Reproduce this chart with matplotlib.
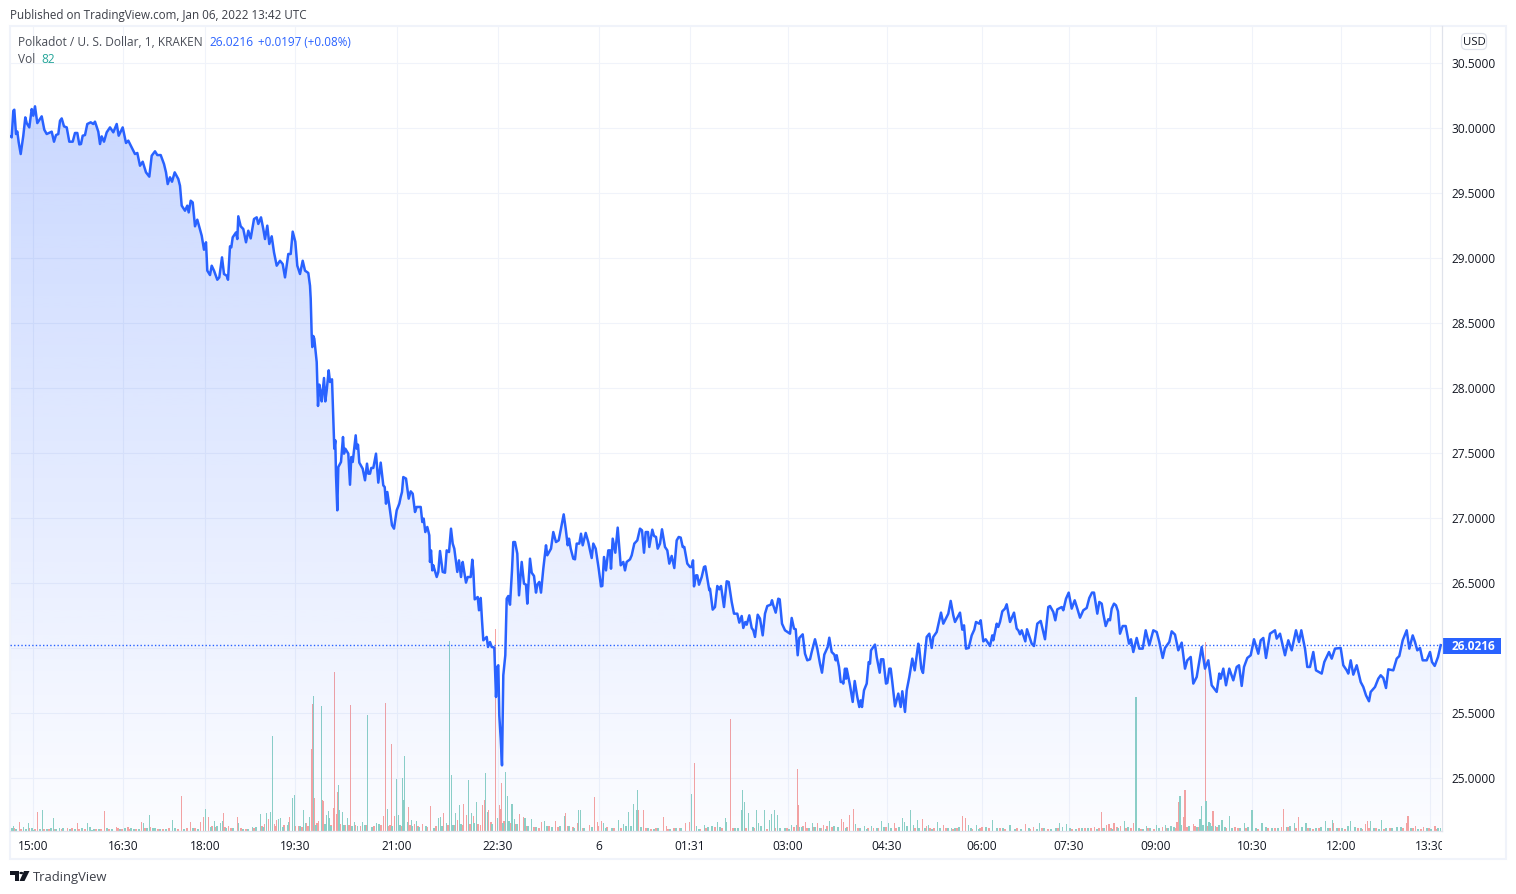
import numpy as np
import matplotlib
matplotlib.use("Agg")
import matplotlib.pyplot as plt
from matplotlib.patches import Rectangle, FancyBboxPatch, Polygon, Circle
from matplotlib.transforms import Bbox, ScaledTranslation

plt.rcParams['font.family'] = ['Open Sans', 'DejaVu Sans']

FIG_W, FIG_H = 1516, 895

# Close price by bar slot (chart slots skip the minutes with no trades)
price_points = [
    (11.0,29.936),(11.7,29.928),(13.3,30.133),(14.3,30.141),(16.0,29.954),(17.3,29.974),(18.7,29.890),(20.7,29.800),
    (23.3,29.941),(25.3,30.082),(26.7,30.038),(29.3,30.005),(31.7,30.146),(33.3,30.095),(35.0,30.167),(37.3,30.038),
    (41.7,30.090),(44.3,29.987),(46.7,29.954),(51.7,29.972),(54.0,29.895),(56.0,29.946),(58.3,29.954),(60.0,30.056),
    (61.7,30.074),(64.0,30.013),(66.7,30.005),(69.3,29.895),(72.7,29.895),(75.0,29.962),(77.3,29.962),(79.3,29.874),
    (81.0,29.877),(82.7,29.941),(85.0,29.946),(87.3,30.031),(90.7,30.044),(93.3,30.031),(95.0,30.049),(98.3,29.972),
    (100.0,29.877),(101.7,29.936),(104.0,29.895),(106.7,29.967),(110.0,30.005),(113.3,29.967),(116.7,30.031),(118.7,29.941),
    (122.7,30.005),(126.0,29.885),(128.3,29.903),(131.7,29.851),(135.0,29.800),(137.3,29.808),(140.0,29.710),(142.7,29.741),
    (146.0,29.659),(149.3,29.626),(151.7,29.787),(155.0,29.821),(157.3,29.792),(160.7,29.792),(164.0,29.723),(166.0,29.659),
    (167.7,29.569),(170.0,29.621),(172.0,29.587),(174.7,29.659),(178.3,29.608),(180.0,29.556),(181.7,29.403),(185.0,29.364),
    (187.3,29.403),(188.7,29.351),(190.7,29.441),(192.7,29.428),(195.0,29.244),(197.3,29.295),(201.7,29.172),(204.0,29.064),
    (206.0,29.121),(207.3,28.903),(210.0,28.869),(211.7,28.941),(214.0,28.903),(217.3,28.833),(219.3,28.851),(222.0,29.005),
    (224.0,28.877),(226.7,28.864),(228.0,28.833),(230.0,29.090),(231.3,29.082),(232.7,29.159),(236.0,29.197),(237.3,29.146),
    (238.3,29.321),(240.7,29.244),(243.3,29.223),(246.0,29.121),(248.3,29.210),(250.7,29.151),(254.0,29.300),(256.7,29.313),
    (258.3,29.262),(261.0,29.313),(263.3,29.223),(265.0,29.146),(267.3,29.249),(269.3,29.108),(271.7,29.167),(274.0,29.044),
    (276.7,28.941),(280.0,28.979),(282.7,28.954),(285.0,28.851),(288.3,29.031),(290.7,29.031),(292.7,29.203),(295.3,29.126),
    (297.3,28.941),(300.0,28.877),(302.7,28.979),(305.0,28.903),(308.3,28.885),(310.0,28.787),
    (310.7,28.687),(311.7,28.405),(312.3,28.315),(313.3,28.400),(314.3,28.379),(316.7,28.200),(318.0,27.862),(319.3,28.026),
    (320.7,27.969),(321.7,27.897),(324.0,28.077),(325.3,27.897),(326.7,27.982),(328.7,28.136),(330.0,28.046),(332.0,28.067),
    (333.3,27.764),(334.3,27.533),(335.3,27.597),(336.0,27.328),(337.3,27.059),(338.3,27.392),(341.0,27.431),(343.0,27.623),
    (344.0,27.495),(345.3,27.533),(348.3,27.495),(350.0,27.256),(351.3,27.469),(352.7,27.431),(355.7,27.636),(356.7,27.533),
    (358.0,27.564),(359.3,27.426),(362.7,27.379),(365.0,27.290),(367.0,27.418),(368.3,27.341),(370.0,27.341),(371.3,27.385),
    (373.3,27.385),(376.0,27.495),(378.3,27.272),(380.7,27.426),(383.3,27.251),(384.7,27.238),(386.0,27.110),(387.3,27.200),
    (389.3,27.097),(392.0,26.944),(394.0,26.918),(396.7,27.059),(399.3,27.110),(400.7,27.162),(402.0,27.200),(403.3,27.315),
    (406.0,27.303),(408.7,27.149),(410.7,27.205),(412.7,27.187),(415.0,27.046),(416.7,27.085),(420.7,27.085),(422.3,26.969),
    (423.7,26.995),(425.3,26.892),(427.3,26.931),(429.3,26.867),(430.0,26.662),(431.0,26.751),(432.3,26.597),(433.3,26.636),
    (436.7,26.546),(438.3,26.585),(440.0,26.746),(442.7,26.585),(445.0,26.579),(446.7,26.751),(449.0,26.738),(451.0,26.918),
    (452.7,26.803),(454.3,26.764),(457.3,26.585),(459.0,26.674),(461.0,26.546),(462.7,26.662),(464.0,26.597),(466.0,26.503),
    (467.7,26.546),(470.7,26.546),(472.3,26.679),(473.3,26.597),(474.7,26.374),(477.7,26.392),(479.0,26.290),(480.7,26.385),
    (482.0,26.213),(483.3,26.059),(485.0,26.072),(486.7,26.085),(488.0,26.008),(490.0,26.046),(491.7,26.008),(494.3,26.003),
    (496.0,25.623),(497.3,25.854),(498.3,25.867),(499.3,25.482),(500.7,25.303),(502.0,25.097),(503.3,25.790),(505.3,25.944),
    (506.7,26.379),(508.3,26.400),(510.0,26.333),(512.0,26.597),(513.3,26.815),(515.0,26.815),(517.3,26.726),(519.0,26.405),
    (521.7,26.662),(524.0,26.495),(526.0,26.487),(527.3,26.341),(530.0,26.687),(531.7,26.579),(534.0,26.554),(536.0,26.426),
    (537.3,26.487),(539.3,26.508),(541.0,26.426),(543.3,26.610),(546.0,26.790),(547.3,26.713),(551.0,26.764),(553.3,26.892),
    (556.0,26.815),(558.7,26.828),(561.0,26.918),(563.7,27.028),(565.7,26.918),(567.7,26.790),(569.0,26.841),(570.7,26.764),
    (573.3,26.687),(575.0,26.682),(576.7,26.803),(579.3,26.803),(581.0,26.879),(582.7,26.790),(585.7,26.885),(588.3,26.815),
    (590.0,26.751),(591.7,26.692),(593.3,26.803),(595.7,26.764),(598.7,26.610),(601.0,26.474),(602.3,26.477),(604.0,26.700),
    (606.0,26.597),(608.3,26.751),(610.0,26.751),(611.0,26.610),(612.7,26.841),(615.3,26.733),(617.7,26.926),(620.7,26.636),
    (623.3,26.662),(625.0,26.597),(626.7,26.662),(630.0,26.682),(631.7,26.713),(634.3,26.803),(637.3,26.828),(640.0,26.918),
    (642.0,26.905),(644.0,26.733),(645.7,26.892),(648.0,26.892),(649.3,26.777),(652.3,26.910),(654.0,26.862),(656.0,26.854),
    (657.7,26.764),(660.0,26.803),(662.0,26.913),(665.0,26.777),(667.3,26.751),(669.3,26.649),(671.7,26.708),(674.3,26.615),
    (676.7,26.828),(678.7,26.854),(680.7,26.849),(682.7,26.777),(684.3,26.777),(687.3,26.649),(690.0,26.623),(691.7,26.623),
    (693.0,26.674),(694.0,26.474),(696.0,26.559),(697.3,26.559),(699.0,26.487),(701.7,26.546),(704.0,26.623),(705.3,26.628),
    (709.3,26.444),(710.0,26.456),(712.7,26.295),(715.0,26.315),(717.3,26.477),(719.3,26.451),(721.0,26.477),(724.0,26.315),
    (726.7,26.513),(728.7,26.508),(731.7,26.354),(734.0,26.264),(737.3,26.264),(739.3,26.195),(741.7,26.246),(743.3,26.154),
    (745.3,26.200),(746.7,26.179),(749.3,26.251),(751.7,26.154),(753.3,26.136),(755.0,26.085),(757.7,26.256),(760.0,26.226),
    (762.7,26.097),(765.0,26.264),(767.3,26.323),(770.7,26.333),(772.0,26.367),(773.3,26.328),(775.7,26.272),(778.3,26.379),
    (779.7,26.374),(782.0,26.187),(785.0,26.136),(790.0,26.110),(791.7,26.231),(794.0,26.149),(795.7,26.144),(797.7,25.944),
    (799.3,26.077),(802.7,26.105),(805.0,25.956),(807.3,25.905),(810.0,25.913),(811.7,25.969),(815.0,26.067),(817.3,25.995),
    (820.0,25.879),(822.0,25.810),(824.3,25.949),(827.7,26.008),(829.3,26.079),(831.7,25.969),(834.3,25.949),(835.7,25.905),
    (836.7,25.944),(839.0,25.854),(840.7,25.738),(842.7,25.738),(843.3,25.726),(845.0,25.841),(846.0,25.764),(846.7,25.841),
    (850.0,25.713),(852.7,25.585),(854.7,25.746),(857.3,25.623),(859.3,25.546),(860.7,25.597),(862.0,25.546),(864.0,25.674),
    (866.7,25.726),(868.7,25.892),(870.0,25.879),(871.0,25.982),(875.0,26.026),(876.7,25.931),(879.7,25.810),(881.0,25.913),
    (883.3,25.913),(886.0,25.726),(887.3,25.731),(889.3,25.841),(890.7,25.841),(892.3,25.738),(895.0,25.551),(898.3,25.649),
    (900.7,25.546),(902.3,25.667),(903.7,25.585),(905.0,25.508),(906.7,25.674),(909.3,25.777),(912.3,25.918),(914.7,25.828),
    (918.3,26.033),(919.3,25.995),(921.3,25.841),(923.0,25.808),(925.0,25.956),(926.7,26.085),(929.3,26.110),(931.7,26.000),
    (933.3,26.085),(936.7,26.123),(941.0,26.272),(943.3,26.187),(948.3,26.264),(950.7,26.362),(953.3,26.251),(955.0,26.200),
    (960.0,26.272),(962.3,26.141),(964.0,26.174),(966.0,25.995),(968.7,26.000),(971.7,26.097),(974.3,26.141),(976.0,26.200),
    (979.3,26.187),(980.7,26.213),(983.3,26.051),(985.7,26.067),(990.0,26.015),(992.3,26.097),(993.3,26.059),(996.7,26.187),
    (998.3,26.162),(1000.0,26.200),(1002.3,26.282),(1005.0,26.303),(1006.7,26.336),(1010.0,26.200),(1014.0,26.272),(1016.7,26.149),
    (1018.3,26.136),(1020.0,26.105),(1021.7,26.136),(1025.3,26.051),(1027.0,26.144),(1031.7,26.033),(1034.0,26.015),(1037.3,26.187),
    (1040.7,26.208),(1043.3,26.123),(1045.0,26.067),(1048.3,26.315),(1050.0,26.323),(1053.3,26.277),(1055.3,26.213),(1057.3,26.297),
    (1061.7,26.315),(1063.3,26.290),(1066.0,26.379),(1068.7,26.426),(1071.7,26.303),(1074.7,26.367),(1077.3,26.303),(1080.0,26.233),
    (1083.3,26.290),(1086.7,26.308),(1089.3,26.385),(1092.0,26.426),(1094.0,26.426),(1097.3,26.264),(1099.3,26.354),(1101.7,26.341),
    (1103.3,26.264),(1105.7,26.169),(1108.3,26.221),(1110.0,26.213),(1111.7,26.303),(1114.0,26.341),(1116.0,26.328),(1118.0,26.282),
    (1120.0,26.110),(1122.7,26.169),(1125.7,26.169),(1129.0,26.033),(1131.0,26.067),(1133.3,25.969),(1136.7,26.077),(1139.3,25.995),
    (1142.7,25.995),(1145.7,26.136),(1149.3,26.021),(1153.3,26.136),(1156.7,26.123),(1159.3,26.046),(1162.7,25.923),(1165.0,26.000),
    (1169.3,26.046),(1171.7,26.128),(1175.0,26.103),(1178.3,25.982),(1181.7,26.041),(1185.0,25.841),(1187.3,25.905),(1190.7,25.931),
    (1193.3,25.726),(1196.7,25.777),(1201.7,26.008),(1205.0,25.841),(1208.3,25.905),(1211.7,25.713),(1216.7,25.662),(1219.3,25.803),
    (1220.7,25.764),(1223.3,25.841),(1226.0,25.713),(1229.3,25.841),(1233.3,25.751),(1236.7,25.854),(1239.0,25.867),(1241.7,25.708),
    (1244.0,25.854),(1247.3,25.923),(1250.7,25.944),(1254.0,26.067),(1258.3,25.956),(1260.7,26.059),(1263.3,26.077),(1266.0,25.923),
    (1270.0,26.110),(1275.0,26.136),(1276.7,26.072),(1280.0,26.110),(1285.0,25.944),(1288.3,26.059),(1291.7,25.982),(1296.0,26.136),
    (1299.0,26.046),(1301.3,26.136),(1305.0,25.995),(1307.3,25.854),(1310.0,25.854),(1313.3,25.969),(1316.0,25.828),(1321.7,25.803),
    (1324.3,25.892),(1329.0,25.969),(1331.7,25.918),(1335.0,25.995),(1340.7,26.000),(1343.3,25.867),(1346.7,25.828),(1348.3,25.803),
    (1350.7,25.905),(1353.3,25.795),(1356.7,25.867),(1360.7,25.738),(1363.3,25.700),(1366.0,25.636),(1369.0,25.590),(1370.7,25.662),
    (1375.0,25.700),(1378.3,25.764),(1380.7,25.790),(1383.3,25.769),(1386.0,25.692),(1388.3,25.836),(1393.3,25.828),(1396.7,25.918),
    (1399.3,25.938),(1402.7,26.059),(1406.7,26.136),(1409.3,25.995),(1412.7,26.097),(1415.0,26.046),(1417.3,25.982),(1420.0,26.000),
    (1422.7,25.905),(1426.7,25.905),(1430.0,25.969),(1432.0,25.892),(1434.7,25.862),(1438.0,25.931),(1440.7,26.0216),
]

# Volume of the rising bars
vol_up = [
    (13.3,140),(23.3,110),(28.3,240),(42.3,630),(53.3,390),(59.3,90),(87.3,240),(90,120),(131,90),(143.3,240),(149.3,480),(155,80),
    (172.3,330),(205.7,660),(214.3,300),(220.3,240),(222.3,300),(238.3,240),(252.3,120),(260.3,510),(266.3,540),(270.3,570),
    (272.3,2850),(278.3,360),(280.3,380),(287.3,190),(288.3,260),(292.3,990),(294.3,1080),(303.3,630),(305.3,240),(309.3,420),
    (313.3,4050),(321.3,3750),(326.3,480),(328.3,600),(329.3,390),(338.3,1380),(339.3,630),(342.3,560),(347.3,390),(354.3,270),
    (357.3,150),(362.3,270),(367.3,3480),(376.3,240),(387.3,660),(396.3,1560),(398.3,480),(402.3,1590),(403.3,930),(404.3,2250),
    (407.3,270),(411.3,330),(416.3,300),(438.3,390),(440.3,420),(446.3,240),(449.3,5700),(451.3,1680),(455.3,540),(459.3,780),
    (468.3,1530),(471.3,540),(476.3,870),(485.3,1740),(487.3,570),(497.3,390),(505.3,1770),(507.3,1050),(511.3,810),(512.3,810),
    (514.3,360),(525,390),(531.3,360),(544.3,300),(564.3,450),(578.3,630),(580.3,630),(603.3,240),(618.3,330),(623.3,210),
    (628.3,570),(633.3,810),(636.3,630),(637.3,1230),(691.3,1110),(696.3,150),(704.3,180),(717.3,270),(725.3,390),(726.3,270),
    (741.3,630),(742.3,1230),(744.3,870),(748.3,540),(756.3,630),(758.3,240),(764.3,630),(769.3,330),(771.3,510),(774.3,630),
    (777.3,480),(791.3,180),(796.3,180),(799.3,120),(812.3,240),(829.3,300),(855.3,210),(864.3,150),(871.3,150),(881.3,300),
    (888.3,240),(902.3,390),(904.3,270),(910.3,630),(913.3,180),(917.3,330),(928.3,180),(937.3,270),(951.3,90),(968.3,180),
    (976.3,180),(992.3,330),(1010,180),(1039.4,240),(1059.2,240),(1062.3,120),(1066.3,210),(1124.7,300),(1136,4020),(1146.2,150),
    (1156.5,180),(1165.3,180),(1171.1,150),(1180,1050),(1181.4,180),(1200.1,360),(1201.8,750),(1205.9,900),(1209,270),(1210.4,240),
    (1215.5,150),(1218.9,180),(1222,330),(1229.8,450),(1244.5,240),(1252,630),(1261.9,240),(1286.8,120),(1294.7,240),(1305.9,240),
    (1325.4,300),(1332.6,330),(1347.9,150),(1350.6,300),(1370.8,300),(1381.7,330),(1397.1,120),(1440.7,82),
]

# Volume of the falling bars
vol_down = [
    (19.3,260),(37.3,570),(67.3,90),(77.3,240),(104.3,600),(116.3,110),(128,120),(141.3,270),(150.3,120),(181.3,1050),(190.3,260),
    (200.3,260),(203.7,420),(208.3,420),(223.3,540),(228.3,150),(237.3,420),(264.3,210),(268.3,360),(274.3,210),(276.3,330),
    (289.3,420),(295.3,150),(298.3,150),(306.3,240),(311.3,2460),(312.3,3810),(314.3,990),(318.3,300),(322.3,930),(323.3,900),
    (333.3,690),(334.3,4770),(336.3,510),(337.3,1170),(345.3,180),(350.3,3780),(360.3,150),(383.3,450),(385.3,3840),(388.3,150),
    (391.3,2610),(394.3,450),(408.3,720),(414.3,210),(422.3,210),(430.3,750),(443.3,540),(457.3,330),(463.3,810),(466.3,480),
    (473.3,450),(480.3,180),(482.3,780),(484.3,930),(488.3,630),(495.3,6060),(499.3,780),(500.3,660),(501.3,1440),(519.3,510),
    (523.3,420),(541.3,270),(555.3,300),(565.3,540),(577.3,240),(589.3,180),(594.3,1020),(597.3,270),(601.3,300),(638.3,630),
    (643.3,630),(663.3,420),(666.3,150),(685.3,240),(689.3,270),(694.3,2040),(730.3,3360),(797.3,1860),(798.3,780),(805.3,270),
    (817.3,240),(823.3,180),(841.3,360),(843.3,270),(849.3,480),(853.3,660),(873.3,90),(894.3,240),(922.3,360),(926.3,150),
    (943.3,180),(962.3,450),(965.3,390),(982,120),(1025.4,210),(1033.2,120),(1094.7,120),(1101.2,570),(1106.3,180),(1109,210),
    (1114.1,240),(1120.3,150),(1133.6,240),(1162.3,120),(1176.9,270),(1179,870),(1184.1,420),(1185.1,1230),(1193.3,210),(1205.3,5670),
    (1213.1,600),(1235,120),(1281.7,120),(1283.8,660),(1298.8,420),(1333.6,240),(1362.3,60),(1365.3,210),(1367.7,300),(1407,240),
    (1408,450),(1415.5,150),(1423.7,120),(1435,150),
]

# Quiet minutes along the bottom of the volume pane
quiet_up = [
    (12,90),(16,60),(26,70),(32,80),(34,40),(40,60),(47,70),(51,90),(56,60),(63,80),(70,50),(75,70),(82,90),(92,40),(94,70),(99,50),(107,80),
    (112,70),(120,50),(125,90),(134,70),(139,60),(147,80),(153,90),(160,60),(166,70),(175,80),(184,60),(193,90),(198,70),(211,110),
    (217,140),(226,90),(233,80),(243,70),(248,60),(256,110),(263,120),(283,110),(300,140),(316,180),(325,220),(331,140),(344,190),(352,160),
    (365,180),(372,130),(379,210),(392,140),(400,170),(412,140),(419,110),(426,150),(434,100),(442,140),(453,180),(461,220),(474,240),(492,200),
    (503,250),(509,300),(517,220),(528,140),(536,110),(547,160),(552,120),(560,140),(569,150),(574,100),(584,80),(592,110),(606,90),(612,80),
    (626,140),(631,160),(641,120),(648,80),(654,70),(658,80),(670,70),(676,80),(681,90),(699,70),(708,110),(712,140),(720,120),(735,80),
    (738,90),(753,120),(761,140),(780,90),(785,80),(789,70),(802,120),(809,90),(815,110),(820,80),(826,70),(834,140),(838,110),(846,90),
    (860,80),(867,70),(877,80),(884,120),(891,90),(899,110),(907,140),(919,90),(925,80),(932,70),(940,90),(948,80),(955,90),(959,110),
    (971,80),(979,70),(986,110),(997,90),(1003,80),(1015,70),(1021,50),(1029,90),(1037,70),(1044,80),(1051,70),(1056,80),(1070,90),(1076,70),
    (1082,80),(1088,90),(1097,70),(1104,80),(1112,70),(1118,90),(1128,110),(1139,80),(1143,70),(1150,90),(1159,80),(1168,90),(1174,110),
    (1189,140),(1197,120),(1203,190),(1212,150),(1225,110),(1232,80),(1240,90),(1248,110),(1256,90),(1266,120),(1272,90),(1278,80),(1290,140),
    (1302,110),(1310,90),(1316,80),(1321,110),(1328,90),(1337,80),(1342,90),(1355,110),(1361,80),(1374,90),(1379,70),(1386,80),(1392,90),
    (1401,110),(1411,80),(1418,70),(1427,80),(1431,70),(1438,90),
]
quiet_down = [
    (14,80),(21,70),(29,80),(35,60),(44,70),(49,50),(55,70),(62,50),(72,80),(79,70),(85,50),(96,70),(101,50),(109,70),(118,80),(122,50),
    (130,70),(136,50),(145,80),(158,70),(163,50),(169,80),(178,50),(187,80),(195,90),(212,140),(216,120),(225,110),(231,90),(241,80),(246,70),
    (254,80),(262,140),(275,150),(284,180),(302,120),(308,140),(317,240),(326,210),(331,180),(340,220),(349,190),(355,170),(366,180),(374,140),
    (381,190),(390,170),(401,140),(410,180),(418,140),(427,120),(436,140),(448,170),(454,190),(462,170),(470,210),(478,220),(491,260),(504,310),
    (510,250),(516,210),(526,140),(534,110),(539,90),(549,140),(558,110),(568,140),(573,110),(583,90),(598,150),(607,110),(614,90),(621,80),
    (646,90),(651,70),(656,80),(668,70),(674,80),(680,80),(700,70),(706,80),(715,110),(722,90),(733,90),(746,80),(754,80),(767,70),(775,90),
    (787,80),(794,110),(803,140),(807,90),(813,110),(821,90),(827,150),(832,120),(838,90),(847,110),(858,80),(868,90),(878,80),(886,110),(896,90),
    (907,80),(915,90),(930,80),(934,90),(946,80),(953,70),(957,80),(972,70),(980,80),(989,80),(1000,90),(1005,70),(1017,80),(1030,70),(1042,80),
    (1048,70),(1058,80),(1072,70),(1079,90),(1085,80),(1091,90),(1099,80),(1103,90),(1111,80),(1117,110),(1126,80),(1131,90),(1141,70),
    (1148,80),(1154,70),(1167,90),(1175,90),(1187,110),(1195,140),(1199,110),(1207,140),(1217,110),(1226,80),(1238,80),(1246,90),(1258,70),
    (1268,90),(1275,80),(1288,110),(1296,90),(1308,80),(1313,70),(1319,80),(1330,80),(1339,90),(1345,70),(1358,80),(1369,90),(1376,80),
    (1384,70),(1390,90),(1403,80),(1413,80),(1421,70),(1429,80),(1437,70),
]

# Session tick labels and the slots they sit on
time_labels = ["15:00","16:30","18:00","19:30","21:00","22:30","6","01:31","03:00","04:30","06:00","07:30","09:00","10:30","12:00","13:30"]
time_slots = [33,123,205,295,397,498,599,690,788,887,982,1069,1156,1252,1341,1430]

price_levels = [25.0,25.5,26.0,26.5,27.0,27.5,28.0,28.5,29.0,29.5,30.0,30.5]

BLUE = "#2962ff"
GRID = "#f0f3fa"
AXIS_LINE = "#e0e3eb"
TEXT = "#131722"
UP = "#8dd1c6"
DOWN = "#f7a3a1"
LAST_UP_TEXT = "#26a69a"

# Pixel positions measured from the top-left corner, as figure fractions
def fx(px):
    return px / FIG_W
def fy(px):
    return 1 - px / FIG_H

fig = plt.figure(figsize=(FIG_W / 100, FIG_H / 100), dpi=100, facecolor="white")

left, right, top, bottom = 10, 1442, 27, 832
rect = [fx(left), fy(bottom), fx(right - left), (bottom - top) / FIG_H]

# Volume pane sits underneath, on its own hidden scale
ax_vol = fig.add_axes(rect, zorder=1)
ax_vol.set_xlim(left, right)
ax_vol.set_ylim(0, 24150)
ax_vol.axis("off")

# Price pane on top
ax = fig.add_axes(rect, zorder=2)
ax.patch.set_alpha(0)
ax.set_xlim(left, right)
ax.set_ylim(24.592, 30.785)

slots = np.array([p[0] for p in price_points])
closes = np.array([p[1] for p in price_points])

# Grid, drawn under the volume bars
for lv in price_levels:
    ax_vol.plot([left, right], [(lv - 24.592) / (30.785 - 24.592) * 24150] * 2, color=GRID, lw=0.75, zorder=0)
for s in time_slots:
    ax_vol.plot([s, s], [0, 24150], color=GRID, lw=0.75, zorder=0)

# Volume bars
all_up = vol_up + quiet_up
all_down = vol_down + quiet_down
ax_vol.bar([v[0] for v in all_down], [v[1] for v in all_down], width=1.3, color=DOWN, linewidth=0, zorder=2)
ax_vol.bar([v[0] for v in all_up], [v[1] for v in all_up], width=1.3, color=UP, linewidth=0, zorder=2)

# Area under the price line fades out towards the bottom
poly = ax.fill_between(slots, closes, 24.592, color="none", linewidth=0)
n = 400
alphas = np.linspace(0.25, 0.015, n)
grad = np.zeros((n, 1, 4))
grad[..., 0] = 0x29 / 255
grad[..., 1] = 0x62 / 255
grad[..., 2] = 1.0
grad[:, 0, 3] = alphas
line_top = 30.17
im = ax.imshow(grad, extent=[left, right, 24.592, line_top], aspect="auto", origin="upper", zorder=1, interpolation="bilinear")
ax.set_xlim(left, right)
ax.set_ylim(24.592, 30.785)
clip = poly.get_paths()[0]
im.set_clip_path(clip, transform=ax.transData)

ax.plot(slots, closes, color=BLUE, lw=1.8, zorder=3, solid_joinstyle="round")

# Last price marker line
last_price = closes[-1]
ax.plot([left, right], [last_price, last_price], color=BLUE, lw=1.0, ls=(0, (1, 1.6)), zorder=4)

# Axes furniture
for sp in ax.spines.values():
    sp.set_visible(False)
ax.spines["right"].set_visible(True)
ax.spines["bottom"].set_visible(True)
ax.spines["right"].set_color(AXIS_LINE)
ax.spines["bottom"].set_color(AXIS_LINE)
ax.spines["right"].set_linewidth(0.9)
ax.spines["bottom"].set_linewidth(0.9)

# The scale drops the level hidden behind the last price tag
label_levels = [p for p in price_levels if p != 26.0]
ax.yaxis.tick_right()
ax.set_yticks(label_levels)
ax.set_yticklabels([f"{p:.4f}" for p in label_levels], fontsize=8.6, color=TEXT)
ax.tick_params(axis="y", length=0, pad=7)
nudge = ScaledTranslation(0, 1 / 100, fig.dpi_scale_trans)
for lab in ax.get_yticklabels():
    lab.set_transform(lab.get_transform() + nudge)
ax.set_xticks(time_slots)
ax.set_xticklabels(time_labels, fontsize=8.6, color=TEXT)
ax.tick_params(axis="x", length=0, pad=5.5)

# Rightmost time label is cut off by the price scale
fig.canvas.draw()
clip_box = Bbox.from_extents(left, 0, right, FIG_H)
for lab in ax.get_xticklabels():
    lab.set_clip_box(clip_box)
    lab.set_clip_on(True)

# Outer frame around the chart
fig.add_artist(Rectangle((fx(9.5), fy(860)), fx(1496.5), 833.5 / FIG_H, transform=fig.transFigure,
                         fill=False, edgecolor=GRID, linewidth=1.5))

# Header texts
fig.text(fx(10), fy(15.5), "Published on TradingView.com, Jan 06, 2022 13:42 UTC", fontsize=8.4, color="#3c3f48", va="center")
fig.text(fx(18), fy(42.5), "Polkadot / U. S. Dollar, 1, KRAKEN", fontsize=8.6, color="#4a4e58", va="center")
fig.text(fx(209), fy(42.5), f"{last_price:.4f}", fontsize=8.6, color=BLUE, va="center")
fig.text(fx(258), fy(42.5), "+0.0197 (+0.08%)", fontsize=8.4, color=BLUE, va="center")
fig.text(fx(18), fy(59.5), "Vol", fontsize=8.6, color="#4a4e58", va="center")
fig.text(fx(41), fy(59.5), f"{vol_up[-1][1]}", fontsize=8.6, color=LAST_UP_TEXT, va="center")

# Currency badge
fig.add_artist(FancyBboxPatch((fx(1461.5), fy(50.5)), fx(25), 16 / FIG_H, boxstyle="round,pad=0,rounding_size=0.003",
                              transform=fig.transFigure, facecolor="white", edgecolor=AXIS_LINE, linewidth=0.9,
                              mutation_aspect=FIG_W / FIG_H))
fig.text(fx(1474), fy(42.5), "USD", fontsize=8.2, color=TEXT, ha="center", va="center")

# Last price tag on the scale
fig.add_artist(Rectangle((fx(1442), fy(655)), fx(59), 16 / FIG_H, transform=fig.transFigure, facecolor=BLUE, edgecolor="none"))
fig.text(fx(1473), fy(647), f"{last_price:.4f}", fontsize=8.6, color="white", ha="center", va="center", fontweight="bold")

# Footer logo and wordmark
logo = "#131722"
fig.add_artist(Polygon([(fx(10), fy(872)), (fx(18.5), fy(872)), (fx(18.5), fy(882)), (fx(14.5), fy(882)),
                        (fx(14.5), fy(876)), (fx(10), fy(876))], transform=fig.transFigure, facecolor=logo, edgecolor="none"))
fig.add_artist(Polygon([(fx(24), fy(872)), (fx(29.5), fy(872)), (fx(24.5), fy(882)), (fx(19.5), fy(882))],
                       transform=fig.transFigure, facecolor=logo, edgecolor="none"))
fig.add_artist(Circle((fx(21.3), fy(874)), 2.0 / FIG_W, transform=fig.transFigure, facecolor=logo, edgecolor="none"))
fig.text(fx(33), fy(878), "TradingView", fontsize=9.4, color="#3c3f48", va="center")

fig.savefig("out.png", dpi=100, facecolor="white")
